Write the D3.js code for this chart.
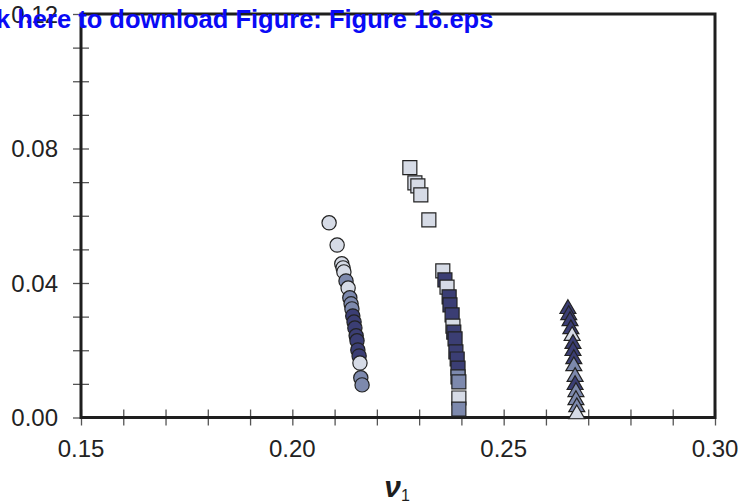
<!DOCTYPE html>
<html>
<head>
<meta charset="utf-8">
<script src="https://cdn.jsdelivr.net/npm/d3@7"></script>
<style>
  html, body { margin: 0; padding: 0; background: #fff; }
  svg { display: block; }
</style>
</head>
<body>
<svg id="chart" width="742" height="504"></svg>
<script>
// Three families of solutions in the (ν1, y) plane, one marker shape each.
// Shade codes: "l" light, "m" medium, "d" dark.
const circleNu    = [0.2087, 0.2106, 0.2117, 0.2120, 0.2122, 0.2127, 0.2132, 0.2136, 0.2139, 0.2141, 0.2143, 0.2146, 0.2148, 0.2151, 0.2153, 0.2155, 0.2158, 0.2160, 0.2162, 0.2165];
const circleY     = [0.0579, 0.0513, 0.0457, 0.0445, 0.0433, 0.0406, 0.0385, 0.0356, 0.0338, 0.0323, 0.0302, 0.0284, 0.0266, 0.0243, 0.0228, 0.0201, 0.0183, 0.0162, 0.0118, 0.0097];
const circleShade = ["l", "l", "l", "l", "l", "m", "l", "m", "m", "m", "d", "d", "d", "d", "d", "d", "d", "l", "m", "m"];

const squareNu    = [0.2278, 0.2290, 0.2297, 0.2304, 0.2323, 0.2356, 0.2361, 0.2366, 0.2371, 0.2373, 0.2378, 0.2380, 0.2382, 0.2385, 0.2387, 0.2390, 0.2392, 0.2392, 0.2394, 0.2394, 0.2394];
const squareY     = [0.0743, 0.0698, 0.0689, 0.0662, 0.0588, 0.0436, 0.0409, 0.0388, 0.0359, 0.0335, 0.0305, 0.0272, 0.0254, 0.0234, 0.0195, 0.0174, 0.0147, 0.0121, 0.0106, 0.0058, 0.0025];
const squareShade = ["l", "l", "l", "l", "l", "l", "d", "l", "d", "d", "d", "l", "d", "d", "d", "d", "d", "m", "m", "l", "m"];

const triangleNu    = [0.2652, 0.2654, 0.2657, 0.2659, 0.2662, 0.2664, 0.2664, 0.2666, 0.2666, 0.2669, 0.2669, 0.2671, 0.2671, 0.2673, 0.2673];
const triangleY     = [0.0323, 0.0305, 0.0287, 0.0263, 0.0243, 0.0219, 0.0198, 0.0174, 0.0153, 0.0121, 0.0097, 0.0076, 0.0052, 0.0031, 0.0010];
const triangleShade = ["d", "d", "d", "d", "l", "d", "d", "d", "m", "m", "d", "m", "m", "m", "l"];

const xTickValues = [0.15, 0.20, 0.25, 0.30];
const yTickValues = [0.00, 0.04, 0.08, 0.12];

const shadeColor = { l: "#d6dbe6", m: "#7d89ad", d: "#3b3e74" };

const svg = d3.select("#chart");
const margin = { left: 81, right: 27, top: 14, bottom: 86.5 };
const W = 742, H = 504;

const x = d3.scaleLinear().domain([0.15, 0.30]).range([margin.left, W - margin.right]);
const y = d3.scaleLinear().domain([0, 0.12]).range([H - margin.bottom, margin.top]);

const font = "'Liberation Sans', Arial, Helvetica, sans-serif";

// Minor ticks every 0.01 on both axes, crossing the frame line
const xMinor = d3.range(0.15, 0.3001, 0.01);
const yMinor = d3.range(0, 0.1201, 0.01);

const xAxis = d3.axisBottom(x).tickValues(xMinor).tickSize(16).tickFormat("");
svg.append("g")
  .attr("transform", `translate(0,${y(0) - 8})`)
  .call(xAxis)
  .call(g => g.select(".domain").remove())
  .call(g => g.selectAll(".tick line").attr("stroke", "#555").attr("stroke-width", 1.3));

const yAxis = d3.axisLeft(y).tickValues(yMinor).tickSize(16).tickFormat("");
svg.append("g")
  .attr("transform", `translate(${x(0.15) + 8},0)`)
  .call(yAxis)
  .call(g => g.select(".domain").remove())
  .call(g => g.selectAll(".tick line").attr("stroke", "#555").attr("stroke-width", 1.3));

// Tick labels
svg.append("g").selectAll("text")
  .data(xTickValues).join("text")
  .attr("x", d => x(d))
  .attr("y", y(0) + 39)
  .attr("text-anchor", "middle")
  .attr("font-family", font)
  .attr("font-size", 24)
  .attr("fill", "#222")
  .text(d => d3.format(".2f")(d));

svg.append("g").selectAll("text")
  .data(yTickValues).join("text")
  .attr("x", 58)
  .attr("y", d => y(d) + 8.5)
  .attr("text-anchor", "end")
  .attr("font-family", font)
  .attr("font-size", 24)
  .attr("fill", "#222")
  .text(d => d3.format(".2f")(d));

// Frame
svg.append("rect")
  .attr("x", x(0.15)).attr("y", y(0.12))
  .attr("width", x(0.30) - x(0.15)).attr("height", y(0) - y(0.12))
  .attr("fill", "none").attr("stroke", "#1e1e1e").attr("stroke-width", 3);

// Markers
function drawSeries(nu, vals, shades, symbolType, size) {
  const pts = nu.map((v, i) => ({ nu: v, val: vals[i], shade: shades[i] }));
  svg.append("g").selectAll("path")
    .data(pts).join("path")
    .attr("transform", d => `translate(${x(d.nu)},${y(d.val)})`)
    .attr("d", d3.symbol().type(symbolType).size(size))
    .attr("fill", d => shadeColor[d.shade])
    .attr("stroke", "#222")
    .attr("stroke-width", 1.2);
}

drawSeries(circleNu, circleY, circleShade, d3.symbolCircle, 160);
drawSeries(squareNu, squareY, squareShade, d3.symbolSquare, 196);
drawSeries(triangleNu, triangleY, triangleShade, d3.symbolTriangle, 110);

// Axis title ν1
const title = svg.append("text")
  .attr("x", 397)
  .attr("y", 497)
  .attr("text-anchor", "middle")
  .attr("font-family", font)
  .attr("fill", "#1e1e1e");
title.append("tspan")
  .attr("font-size", 30).attr("font-weight", "bold").attr("font-style", "italic")
  .text("ν");
title.append("tspan")
  .attr("font-size", 16).attr("dy", 4)
  .text("1");

// Download banner across the top
svg.append("text")
  .attr("x", -4)
  .attr("y", 28)
  .attr("font-family", font)
  .attr("font-size", 25.5)
  .attr("font-weight", "bold")
  .attr("fill", "#0a0af5")
  .text("k here to download Figure: Figure 16.eps");
</script>
</body>
</html>
